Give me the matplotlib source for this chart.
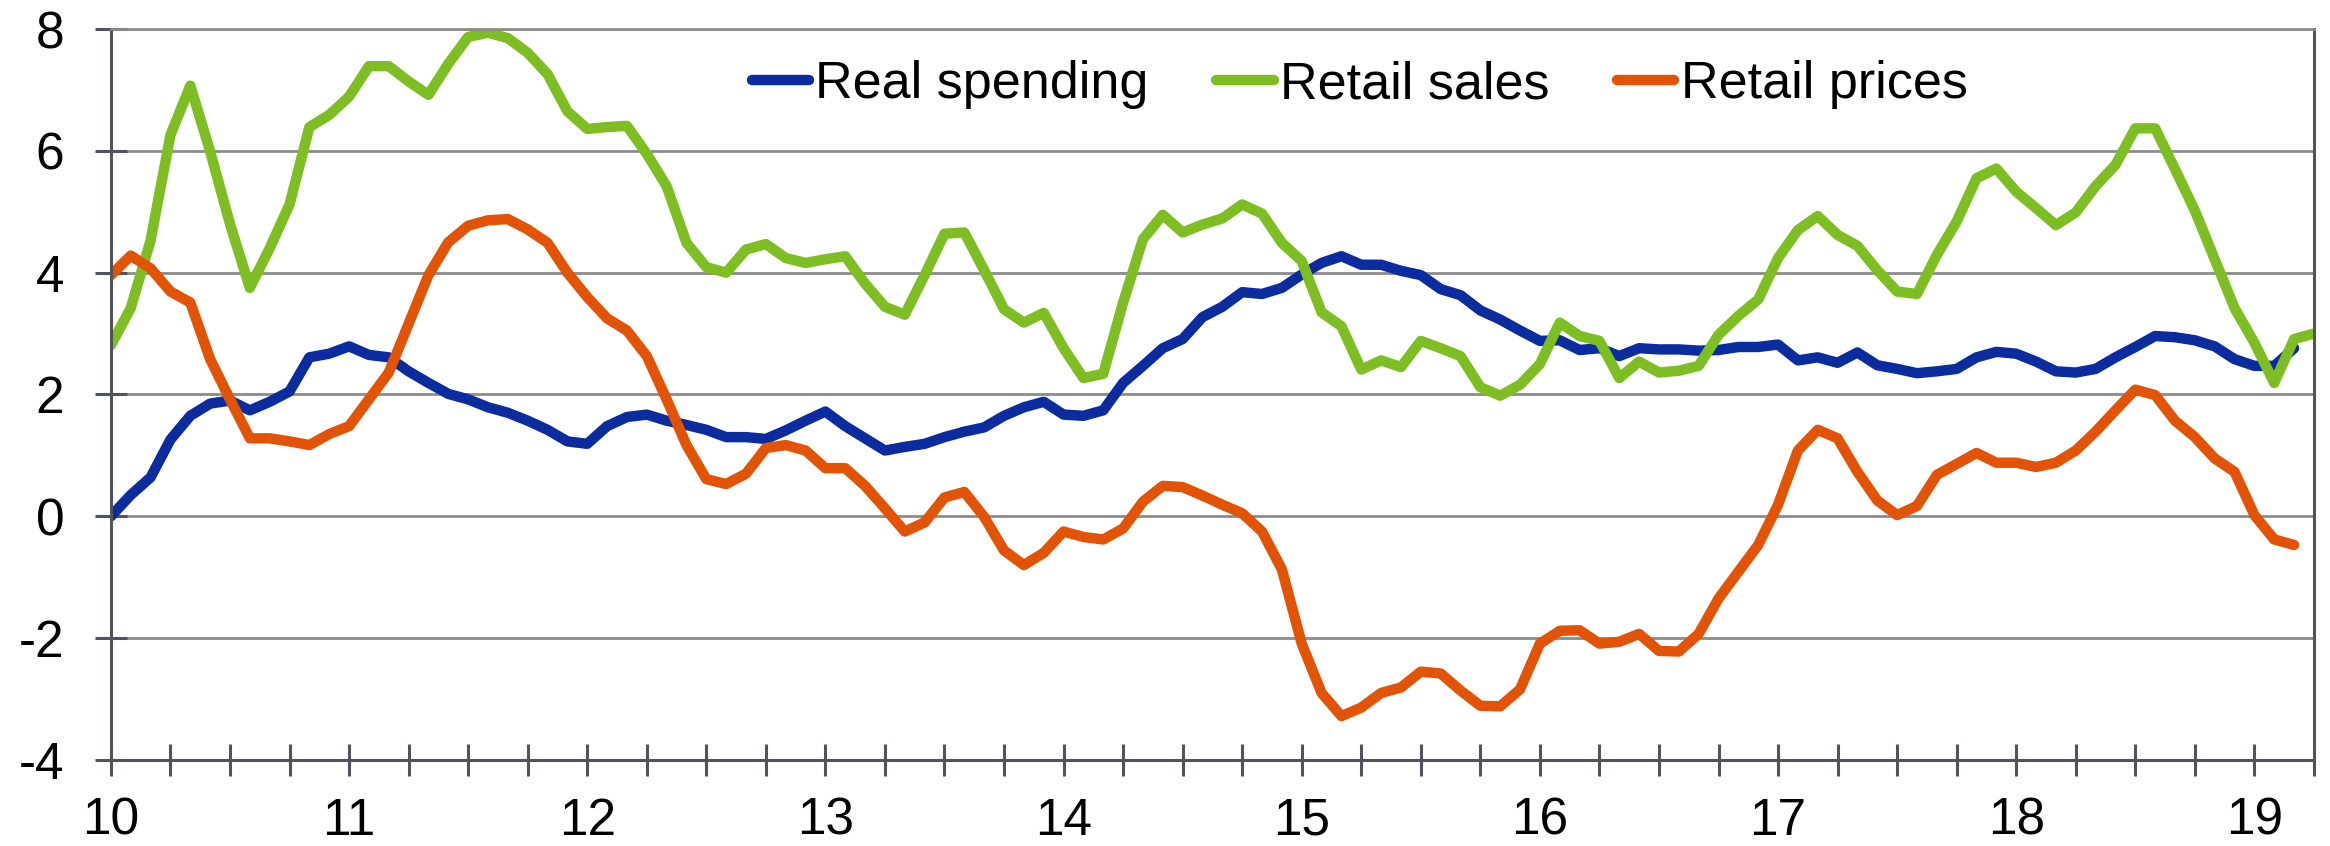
import numpy as np
import matplotlib
matplotlib.use("Agg")
import matplotlib.pyplot as plt
from matplotlib.ticker import MultipleLocator, FormatStrFormatter

plt.rcParams['font.family'] = ['Liberation Sans', 'DejaVu Sans']

# monthly, % y/y, starting Jan 2010 (x axis in two-digit years)
start_year = 10
real_spending = [0.0, 0.35, 0.64, 1.26, 1.65, 1.85, 1.90, 1.74, 1.88, 2.05, 2.61, 2.67,
                 2.79, 2.65, 2.61, 2.38, 2.19, 2.01, 1.92, 1.79, 1.70, 1.57, 1.42, 1.23,
                 1.19, 1.48, 1.63, 1.67, 1.57, 1.50, 1.42, 1.30, 1.30, 1.27, 1.41, 1.57,
                 1.72, 1.48, 1.28, 1.08, 1.14, 1.19, 1.30, 1.39, 1.46, 1.65, 1.79, 1.88,
                 1.67, 1.65, 1.74, 2.19, 2.47, 2.76, 2.91, 3.27, 3.44, 3.68, 3.65, 3.75,
                 3.97, 4.16, 4.27, 4.13, 4.13, 4.03, 3.96, 3.73, 3.63, 3.38, 3.23, 3.05,
                 2.88, 2.89, 2.73, 2.76, 2.63, 2.76, 2.74, 2.74, 2.72, 2.73, 2.78, 2.78,
                 2.82, 2.56, 2.61, 2.52, 2.69, 2.48, 2.42, 2.35, 2.38, 2.42, 2.61, 2.70,
                 2.67, 2.54, 2.38, 2.36, 2.42, 2.61, 2.78, 2.96, 2.94, 2.89, 2.79, 2.58,
                 2.47, 2.47, 2.76]
retail_sales = [2.81, 3.42, 4.53, 6.26, 7.07, 5.99, 4.80, 3.75, 4.40, 5.12, 6.39, 6.59,
                6.89, 7.39, 7.39, 7.14, 6.92, 7.43, 7.87, 7.94, 7.85, 7.61, 7.26, 6.65,
                6.36, 6.39, 6.41, 5.95, 5.42, 4.49, 4.09, 4.00, 4.38, 4.47, 4.24, 4.16,
                4.22, 4.27, 3.82, 3.44, 3.31, 3.96, 4.64, 4.66, 4.04, 3.40, 3.18, 3.34,
                2.76, 2.27, 2.34, 3.51, 4.55, 4.95, 4.66, 4.79, 4.89, 5.12, 4.97, 4.49,
                4.19, 3.35, 3.12, 2.41, 2.56, 2.45, 2.88, 2.76, 2.63, 2.12, 1.98, 2.16,
                2.50, 3.18, 2.96, 2.88, 2.27, 2.54, 2.36, 2.39, 2.47, 2.98, 3.29, 3.56,
                4.24, 4.70, 4.93, 4.62, 4.44, 4.04, 3.69, 3.65, 4.29, 4.84, 5.55, 5.71,
                5.33, 5.06, 4.78, 4.99, 5.42, 5.77, 6.37, 6.37, 5.70, 5.02, 4.22, 3.42,
                2.85, 2.19, 2.91, 3.00]
retail_prices = [3.96, 4.28, 4.07, 3.69, 3.51, 2.58, 1.92, 1.28, 1.28, 1.23, 1.17, 1.35,
                 1.48, 1.92, 2.36, 3.16, 3.96, 4.50, 4.77, 4.86, 4.88, 4.71, 4.49, 4.00,
                 3.60, 3.25, 3.05, 2.63, 1.92, 1.17, 0.61, 0.53, 0.70, 1.12, 1.17, 1.08,
                 0.79, 0.79, 0.50, 0.13, -0.25, -0.10, 0.31, 0.40, -0.01, -0.56, -0.80, -0.60,
                 -0.25, -0.34, -0.38, -0.20, 0.24, 0.50, 0.48, 0.34, 0.19, 0.05, -0.25, -0.87,
                 -2.09, -2.90, -3.28, -3.14, -2.90, -2.81, -2.55, -2.58, -2.86, -3.11, -3.12, -2.84,
                 -2.09, -1.88, -1.87, -2.09, -2.06, -1.93, -2.21, -2.22, -1.93, -1.35, -0.91, -0.47,
                 0.19, 1.08, 1.42, 1.28, 0.73, 0.26, 0.02, 0.17, 0.68, 0.86, 1.04, 0.88,
                 0.88, 0.81, 0.88, 1.08, 1.39, 1.74, 2.08, 1.99, 1.57, 1.30, 0.95, 0.73,
                 0.02, -0.38, -0.47]

series_names = ["Real spending", "Retail sales", "Retail prices"]
colors = ["#0a2c9f", "#7dbf22", "#e35306"]

fig = plt.figure(figsize=(23.3, 8.46), dpi=100)
ax = fig.add_axes([0.0476, 0.1017, 0.9455, 0.864])

for vals, name, c in zip([real_spending, retail_sales, retail_prices], series_names, colors):
    x = start_year + np.arange(len(vals)) / 12.0
    ax.plot(x, vals, color=c, lw=7.5, label=name,
            solid_capstyle='round', solid_joinstyle='round')

ax.set_xlim(10, 19.25)
ax.set_ylim(-4, 8)
ax.yaxis.set_major_locator(MultipleLocator(2))
ax.xaxis.set_major_locator(MultipleLocator(1))
ax.xaxis.set_minor_locator(MultipleLocator(0.25))
ax.xaxis.set_major_formatter(FormatStrFormatter('%d'))
ax.yaxis.set_major_formatter(FormatStrFormatter('%d'))

ax.grid(axis='y', color='#8c8c8c', lw=2)
ax.set_axisbelow(True)

spine_col = '#50555c'
for s in ['left', 'bottom', 'right']:
    ax.spines[s].set_color(spine_col)
    ax.spines[s].set_linewidth(2.2)
ax.spines['top'].set_color('#8c8c8c')
ax.spines['top'].set_linewidth(2)

ax.tick_params(axis='x', which='both', direction='inout', length=23, width=2.2,
               color=spine_col, labelsize=37, pad=15)
ax.tick_params(axis='y', direction='inout', length=23, width=2.2,
               color=spine_col, labelsize=37, pad=22)

fig.legend(loc='center', bbox_to_anchor=(0.5835, 0.900), ncol=3, frameon=False,
           fontsize=37.5, handlelength=1.1, handletextpad=0.12, columnspacing=1.3,
           borderpad=0, borderaxespad=0)

fig.savefig("out.png", dpi=100)
